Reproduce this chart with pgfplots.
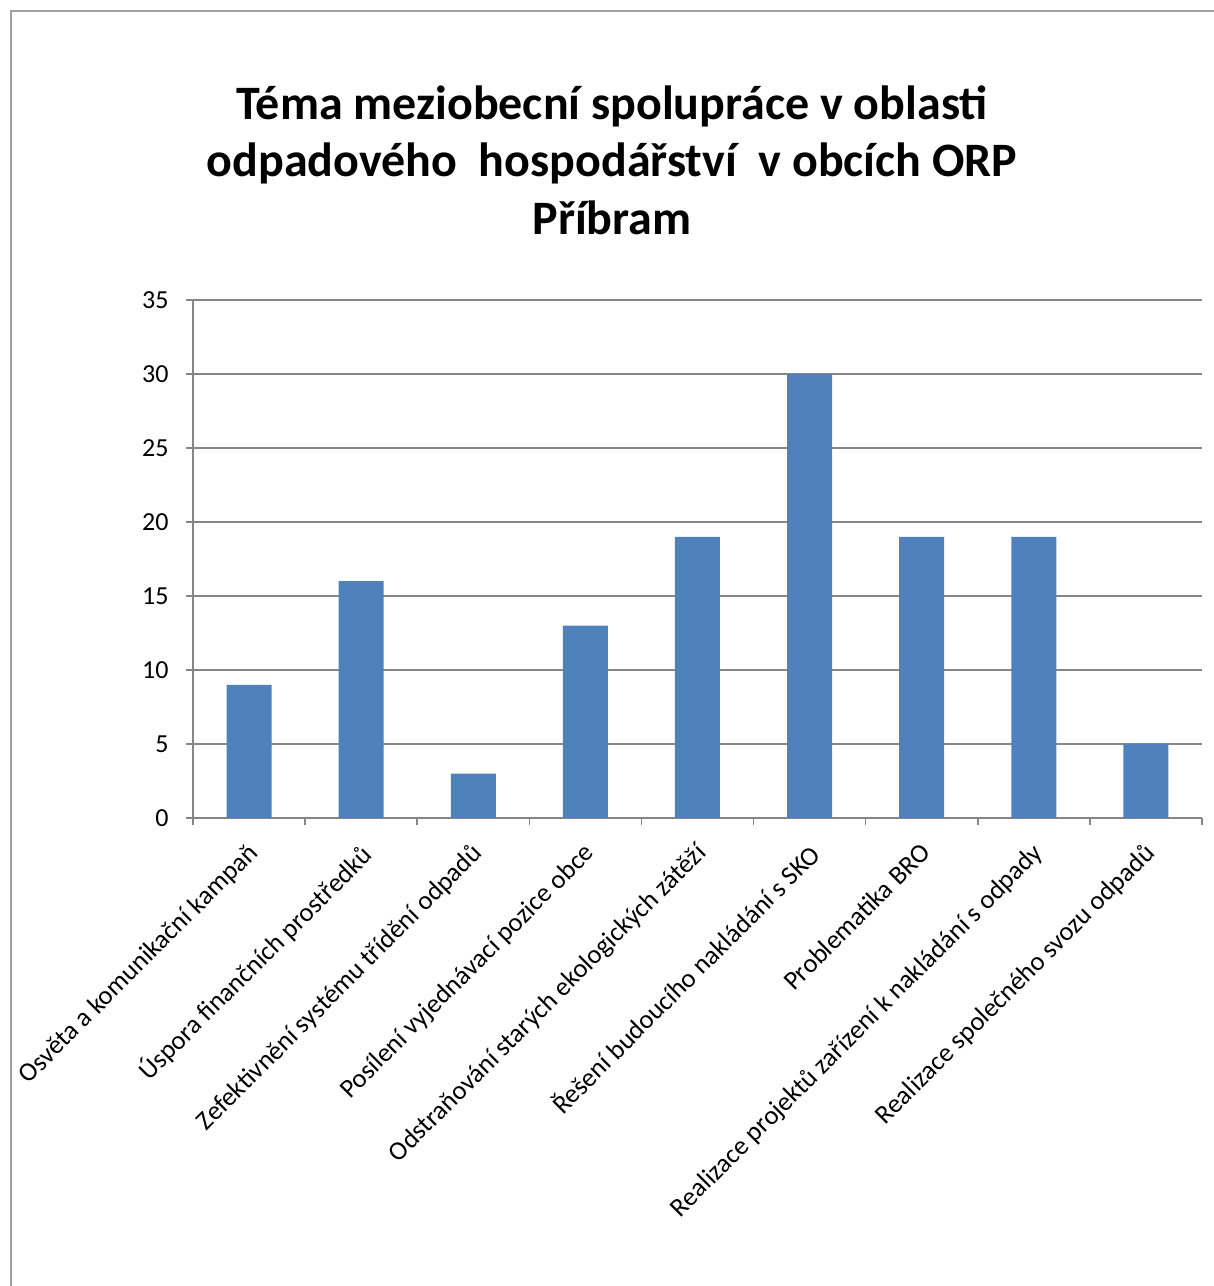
\documentclass[border=0pt]{standalone}
\usepackage{fontspec}
\setmainfont{Carlito}
\usepackage{pgfplots}
\pgfplotsset{compat=1.18}
\definecolor{barblue}{HTML}{4F81BD}
\definecolor{gridgray}{HTML}{868686}
\begin{document}
\begin{tikzpicture}
% canvas in pixel-like units: 1pt = 1px of the reference
\path[use as bounding box] (0,0) rectangle (1214pt,1286pt);
\draw[gray!75, line width=2pt] (11pt,0) -- (11pt,1275pt) -- (1214pt,1275pt);
\node[align=center, font=\fontsize{48}{57.5}\selectfont\bfseries] at (612pt,1126pt)
  {Téma meziobecní spolupráce v oblasti\\odpadového\ \ hospodářství\ \ v obcích ORP\\Příbram};
\begin{axis}[
  at={(193pt,468pt)}, anchor=south west,
  scale only axis, width=1009pt, height=518pt,
  xmin=0.5, xmax=9.5, ymin=0, ymax=35,
  ytick={0,5,...,35},
  xtick={1,...,9},
  xticklabels={Osvěta a komunikační kampaň,Úspora finančních prostředků,Zefektivnění systému třídění odpadů,Posílení vyjednávací pozice obce,Odstraňování starých ekologických zátěží,Řešení budoucího nakládání s SKO,Problematika BRO,Realizace projektů zařízení k nakládání s odpady,Realizace společného svozu odpadů},
  minor xtick={0.5,1.5,...,9.5},
  major x tick style={draw=none},
  tick align=outside,
  major tick length=7pt, minor tick length=7pt,
  axis x line*=bottom, axis y line*=left,
  axis line style={draw=gridgray, line width=1.5pt},
  every tick/.style={draw=gridgray, line width=1.5pt},
  ymajorgrids, grid style={draw=gridgray, line width=1.5pt},
  /pgf/number format/assume math mode=true,
  yticklabel style={font=\fontsize{26}{30}\selectfont, xshift=-14pt},
  xticklabel style={font=\fontsize{26.5}{30}\selectfont, inner sep=0pt, xshift=-3pt, yshift=-16pt, rotate=45, anchor=north east},
  ybar, bar width=45pt,
]
\addplot[fill=barblue, draw=none] coordinates {(1,9) (2,16) (3,3) (4,13) (5,19) (6,30) (7,19) (8,19) (9,5)};
\end{axis}
\end{tikzpicture}
\end{document}
